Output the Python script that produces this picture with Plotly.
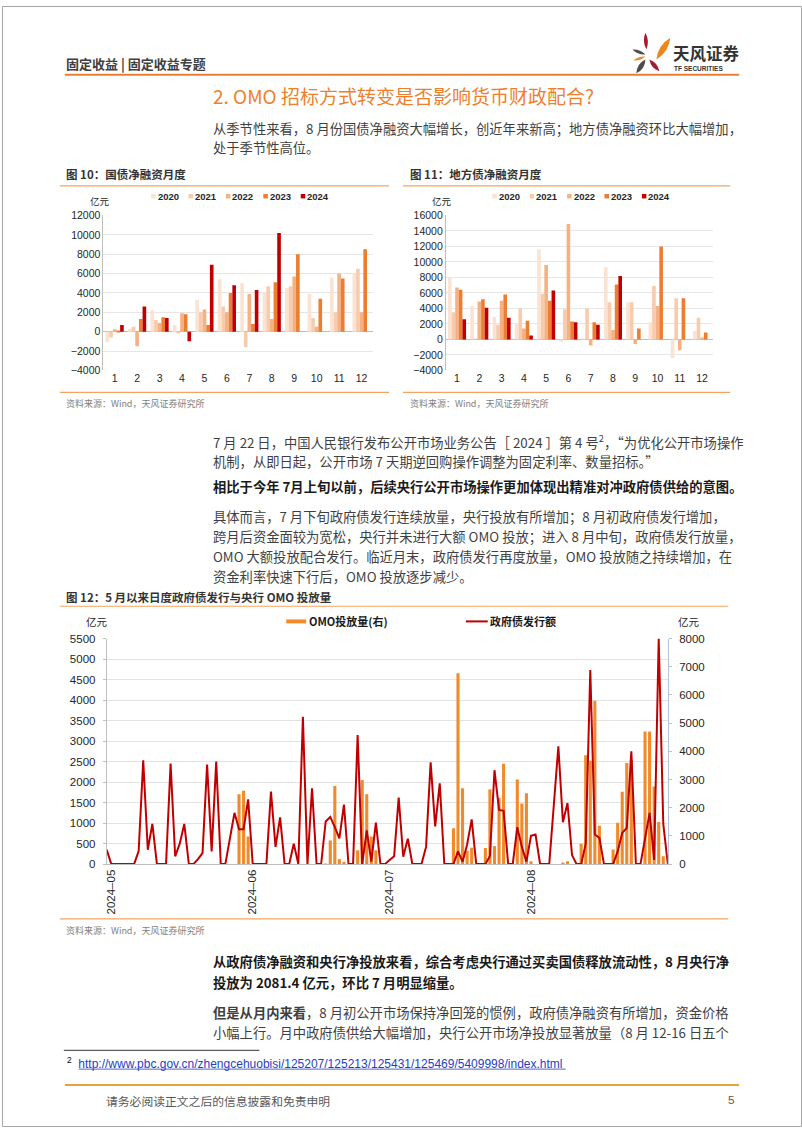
import pandas as pd
import plotly.graph_objects as go

W, H = 802, 1133

# ---- chart 10 / 11: monthly net financing (亿元) ----
months = [str(m) for m in range(1, 13)]
years = ["2020", "2021", "2022", "2023", "2024"]
year_colors = ["#FBE3D3", "#F8CBAD", "#F4B183", "#ED7D31", "#C00000"]

treasury_2020 = [-1100, 300, 2200, 700, 3300, 5400, 5000, 4100, 4500, 3900, 5600, 6000]
treasury_2021 = [-600, 500, 1200, -200, 2000, 2600, -1600, 4700, 4700, 1400, 2000, 6500]
treasury_2022 = [250, -1500, 900, 1900, 2300, 2000, 3900, 1300, 5700, 500, 6000, 2000]
treasury_2023 = [50, 1300, 1500, 1800, 700, 4000, 800, 5100, 8000, 3400, 5500, 8500]
treasury_2024 = [700, 2600, 1400, -1000, 6900, 4800, 4300, 10200, None, None, None, None]

local_2020 = [7900, 4300, 2900, 2100, 11600, -300, 100, 9300, 4800, 2200, -2400, 1100]
local_2021 = [3500, 50, 1900, 4000, 5900, 3900, 4000, 4800, 4800, 6900, 5300, 2800]
local_2022 = [6700, 4900, 5000, 1400, 9600, 14900, -800, 1200, -600, 4300, -1400, 200]
local_2023 = [6400, 5200, 5800, 2400, 5000, 2300, 2200, 7100, 1400, 12000, 5300, 900]
local_2024 = [2600, 4100, 2800, 500, 6300, 2200, 1900, 8200, None, None, None, None]

# ---- chart 12: daily, 2024-04-30 .. 2024-08-31 ----
days = pd.date_range("2024-04-30", "2024-08-31", freq="D")
gov_issue = [
    350, 0, 0, 0, 0, 0, 0, 320, 2530, 350,
    980, 0, 0, 0, 2450, 190, 500, 980, 0, 0,
    120, 270, 2430, 310, 2500, 0, 0, 620, 1250, 850,
    850, 1580, 0, 0, 0, 0, 1770, 420, 1140, 0,
    0, 500, 0, 3590, 0, 1850, 0, 0, 1040, 1150,
    900, 630, 1450, 0, 0, 3150, 0, 820, 60, 1010,
    0, 0, 100, 190, 1620, 180, 620, 0, 0, 0,
    420, 2480, 920, 1970, 0, 0, 0, 310, 60, 480,
    1090, 0, 0, 0, 200, 2290, 1320, 1300, 0, 0,
    900, 420, 60, 690, 720, 0, 0, 0, 1430, 2870,
    1020, 1490, 220, 0, 0, 500, 4730, 720, 640, 0,
    0, 0, 310, 760, 880, 2750, 0, 0, 620, 1250,
    100, 5500, 980, 0,
]
omo = [
    0, 0, 0, 0, 0, 0, 0, 0, 0, 0,
    0, 0, 0, 0, 0, 0, 0, 0, 0, 0,
    0, 0, 0, 0, 0, 0, 0, 0, 0, 2480,
    2600, 980, 0, 0, 0, 0, 0, 0, 0, 0,
    0, 0, 0, 0, 0, 0, 0, 0, 20, 840,
    2770, 175, 80, 0, 0, 490, 2980, 2480, 980, 490,
    0, 0, 0, 0, 0, 0, 0, 0, 0, 0,
    0, 0, 0, 0, 0, 0, 1270, 6770, 2690, 470,
    585, 0, 0, 570, 2650, 640, 2350, 3560, 0, 0,
    3000, 2150, 2510, 100, 0, 0, 0, 0, 0, 0,
    50, 100, 0, 0, 725, 3860, 3670, 5790, 1360, 0,
    0, 515, 1470, 2570, 3590, 3700, 0, 0, 4700, 4700,
    2750, 1490, 280, 0,
]
month_ticks = ["2024-05-01", "2024-06-01", "2024-07-01", "2024-08-01"]
month_labels = ["2024–05", "2024–06", "2024–07", "2024–08"]

CJK = "Noto Sans CJK SC"
LAT = "Liberation Sans, Arial"
BODY = "#3F3F3F"
ORANGE = "#ED7D31"
LINE_OR = "#F4A460"


def px(x):
    return x / W


def py(y):
    return 1 - y / H


fig = go.Figure()

for yr, col, vals in zip(years, year_colors,
                         [treasury_2020, treasury_2021, treasury_2022, treasury_2023, treasury_2024]):
    fig.add_trace(go.Bar(x=months, y=vals, name=yr, marker_color=col,
                         marker_line_width=0, xaxis="x", yaxis="y"))
for yr, col, vals in zip(years, year_colors,
                         [local_2020, local_2021, local_2022, local_2023, local_2024]):
    fig.add_trace(go.Bar(x=months, y=vals, name=yr, marker_color=col,
                         marker_line_width=0, xaxis="x2", yaxis="y2"))

fig.add_trace(go.Bar(x=days, y=omo, name="OMO投放量(右)", marker_color="#F08A2B",
                     marker_line_width=0, width=0.68 * 86400000, xaxis="x3", yaxis="y3"))
fig.add_trace(go.Scatter(x=days, y=gov_issue, name="政府债发行额", mode="lines",
                         line=dict(color="#C00000", width=2), xaxis="x3", yaxis="y4"))

tickf = dict(family=LAT, size=10.5, color="#262626")
tickf12 = dict(family=LAT, size=11.5, color="#262626")

fig.update_layout(
    width=W, height=H, margin=dict(l=0, r=0, t=0, b=0),
    paper_bgcolor="white", plot_bgcolor="white",
    barmode="group", bargap=0.19, bargroupgap=0, showlegend=False,
    xaxis=dict(domain=[px(101.7), px(371.7)], anchor="y", type="category",
               showline=False, ticks="", showgrid=False, tickfont=tickf),
    yaxis=dict(domain=[py(368.3), py(211.7)], anchor="x", range=[-4000, 12000], dtick=2000,
               tickformat="d", showgrid=True, gridcolor="#E6E6E6", showline=True,
               linecolor="#BFBFBF", zeroline=True, zerolinecolor="#BFBFBF",
               zerolinewidth=1, ticks="", tickfont=tickf),
    xaxis2=dict(domain=[px(445), px(713)], anchor="y2", type="category",
                showline=False, ticks="", showgrid=False, tickfont=tickf),
    yaxis2=dict(domain=[py(368.3), py(211.7)], anchor="x2", range=[-4000, 16000], dtick=2000,
                tickformat="d", showgrid=True, gridcolor="#E6E6E6", showline=True,
                linecolor="#BFBFBF", zeroline=True, zerolinecolor="#BFBFBF",
                zerolinewidth=1, ticks="", tickfont=tickf),
    xaxis3=dict(domain=[px(105), px(667.5)], anchor="y3", type="date",
                range=["2024-04-30", "2024-08-31"], tickvals=month_ticks,
                ticktext=month_labels, tickangle=-90, showgrid=False, showline=True,
                linecolor="#BFBFBF", ticks="", tickfont=tickf12),
    yaxis3=dict(domain=[py(867.3), py(639.3)], anchor="x3", side="right", range=[0, 8000],
                dtick=1000, tickformat="d", showgrid=False, showline=True,
                linecolor="#B4C3DA", ticks="outside", ticklen=3, tickcolor="#B4C3DA",
                zeroline=False, tickfont=tickf12, ticklabelstandoff=5),
    yaxis4=dict(overlaying="y3", anchor="x3", side="left", range=[0, 5500], dtick=500,
                tickformat="d", showgrid=True, gridcolor="#E3E3E3", showline=True,
                linecolor="#BFBFBF", ticks="outside", ticklen=3, tickcolor="#BFBFBF",
                zeroline=False, tickfont=tickf12, ticklabelstandoff=5),
)

shapes = []


def hline(x0, x1, y, color, width=1.0):
    shapes.append(dict(type="line", xref="paper", yref="paper", x0=px(x0), x1=px(x1),
                       y0=py(y), y1=py(y), line=dict(color=color, width=width)))


def rect(x0, x1, y0, y1, color):
    shapes.append(dict(type="rect", xref="paper", yref="paper", x0=px(x0), x1=px(x1),
                       y0=py(y1), y1=py(y0), fillcolor=color, line=dict(width=0)))


def leaf(x1, y1, x2, y2, w, color):
    # leaf shaped petal between two tips
    mx, my = (x1 + x2) / 2, (y1 + y2) / 2
    dx, dy = x2 - x1, y2 - y1
    ln = (dx * dx + dy * dy) ** 0.5
    nx, ny = -dy / ln * w, dx / ln * w
    p = lambda x, y: f"{px(x):.5f},{py(y):.5f}"
    path = (f"M {p(x1, y1)} Q {p(mx + nx, my + ny)} {p(x2, y2)} "
            f"Q {p(mx - nx, my - ny)} {p(x1, y1)} Z")
    shapes.append(dict(type="path", xref="paper", yref="paper", path=path,
                       fillcolor=color, line=dict(width=0)))


def text(x, y, s, size=13.3, color=BODY, bold=False, family=CJK, anchor="left"):
    fig.add_annotation(x=px(x), y=py(y), xref="paper", yref="paper",
                       text=f"<b>{s}</b>" if bold else s, showarrow=False,
                       xanchor=anchor, yanchor="middle",
                       font=dict(family=family, size=size, color=color))


# page frame
shapes.append(dict(type="rect", xref="paper", yref="paper", x0=px(0.5), x1=px(801.5),
                   y0=py(1132.5), y1=py(0.5), line=dict(color="#A6A6A6", width=1)))

# header
text(62, 58, "固定收益 | 固定收益专题", size=13, color="#404040", bold=True)
hline(63, 739, 69.5, ORANGE, 2)
leaf(645, 27, 646, 44, 4, "#A6192E")
leaf(670, 32, 656, 54, 6.5, "#F08519")
leaf(632, 44, 645, 49, 3.2, "#4D4D4D")
leaf(633, 55, 645, 51, 2.6, "#F08519")
leaf(636, 68, 645, 54, 5, "#4D4D4D")
leaf(649, 54, 659, 66, 4.5, "#A6192E")
text(671, 48, "天风证券", size=16.5, color="#333333", bold=True)
text(672, 63, "TF SECURITIES", size=6.5, color="#333333", bold=True, family=LAT)

# section title + paragraph
text(210, 90, "2. OMO 招标方式转变是否影响货币财政配合?", size=19, color="#EE7F2D")
text(210, 124, "从季节性来看，8 月份国债净融资大幅增长，创近年来新高；地方债净融资环比大幅增加，")
text(210, 143, "处于季节性高位。")

# chart 10 / 11 frames
text(62, 170, "图 10：国债净融资月度", size=11.5, color="#333333", bold=True)
text(407, 170, "图 11：地方债净融资月度", size=11.5, color="#333333", bold=True)
hline(58, 388, 181.7, LINE_OR, 1.2)
hline(402, 730, 181.7, LINE_OR, 1.2)
hline(58, 388, 390.5, LINE_OR, 1.2)
hline(402, 730, 390.5, LINE_OR, 1.2)
text(62, 402, "资料来源：Wind，天风证券研究所", size=9, color="#7F7F7F")
text(407, 402, "资料来源：Wind，天风证券研究所", size=9, color="#7F7F7F")
text(86, 197.5, "亿元", size=9.5, color="#262626")
text(429, 197.5, "亿元", size=9.5, color="#262626")
for i, (yr, col) in enumerate(zip(years, year_colors)):
    for x0 in (155 + 37.5 * i, 497 + 37.5 * i):
        rect(x0 - 5.5, x0 - 1, 190, 194.5, col)
        text(x0 - 1, 192.5, yr, size=9.5, color="#262626", bold=True, family=LAT)

# paragraphs
text(210, 440, "7 月 22 日，中国人民银行发布公开市场业务公告［ 2024 ］第 4 号<sup>2</sup>，“为优化公开市场操作")
text(210, 460.5, "机制，从即日起，公开市场 7 天期逆回购操作调整为固定利率、数量招标。”")
text(210, 486, "相比于今年 7月上旬以前，后续央行公开市场操作更加体现出精准对冲政府债供给的意图。",
     color="#1A1A1A", bold=True)
text(210, 516, "具体而言，7 月下旬政府债发行连续放量，央行投放有所增加；8 月初政府债发行增加，")
text(210, 536, "跨月后资金面较为宽松，央行并未进行大额 OMO 投放；进入 8 月中旬，政府债发行放量，")
text(210, 556.5, "OMO 大额投放配合发行。临近月末，政府债发行再度放量，OMO 投放随之持续增加，在")
text(210, 576.5, "资金利率快速下行后，OMO 投放逐步减少。")

# chart 12 frame
text(62, 597, "图 12：5 月以来日度政府债发行与央行 OMO 投放量", size=11.5, color="#333333", bold=True)
hline(58, 728, 606.7, LINE_OR, 1.2)
hline(58, 728, 922.7, LINE_OR, 1.2)
text(62, 934, "资料来源：Wind，天风证券研究所", size=9, color="#7F7F7F")
text(82, 622, "亿元", size=10.5, color="#262626")
text(676, 622, "亿元", size=10.5, color="#262626")
rect(285, 305, 620, 624, "#F08A2B")
text(306, 622, "OMO投放量(右)", size=11, color="#1A1A1A", bold=True)
hline(465, 487, 622, "#C00000", 2)
text(487, 622, "政府债发行额", size=11, color="#1A1A1A", bold=True)

# closing paragraphs
text(210, 966, "从政府债净融资和央行净投放来看，综合考虑央行通过买卖国债释放流动性，8 月央行净",
     color="#1A1A1A", bold=True)
text(210, 987, "投放为 2081.4 亿元，环比 7 月明显缩量。", color="#1A1A1A", bold=True)
text(210, 1017, "<b>但是从月内来看</b>，8 月初公开市场保持净回笼的惯例，政府债净融资有所增加，资金价格")
text(210, 1037.5, "小幅上行。月中政府债供给大幅增加，央行公开市场净投放显著放量（8 月 12-16 日五个")

# footnote + footer
hline(62, 258, 1055.5, "#000000", 0.8)
fig.add_annotation(x=px(63), y=py(1068), xref="paper", yref="paper", showarrow=False,
                   xanchor="left", yanchor="middle",
                   text="<sup>2</sup>  <span style='color:#1F3FBF'>"
                        "http://www.pbc.gov.cn/zhengcehuobisi/125207/125213/125431/125469/5409998/index.html"
                        "</span>",
                   font=dict(family=LAT, size=12, color="#000000"))
hline(77, 565, 1074.5, "#1F3FBF", 0.8)
hline(63, 739, 1090.5, "#E8A33A", 2)
text(102, 1106, "请务必阅读正文之后的信息披露和免责申明", size=11.8, color="#595959")
text(737, 1106, "5", size=11.8, color="#595959", family=LAT, anchor="right")

fig.update_layout(shapes=shapes)
fig.write_html("out.html", config={"displayModeBar": False},
               post_script="document.body.style.margin='0';")
